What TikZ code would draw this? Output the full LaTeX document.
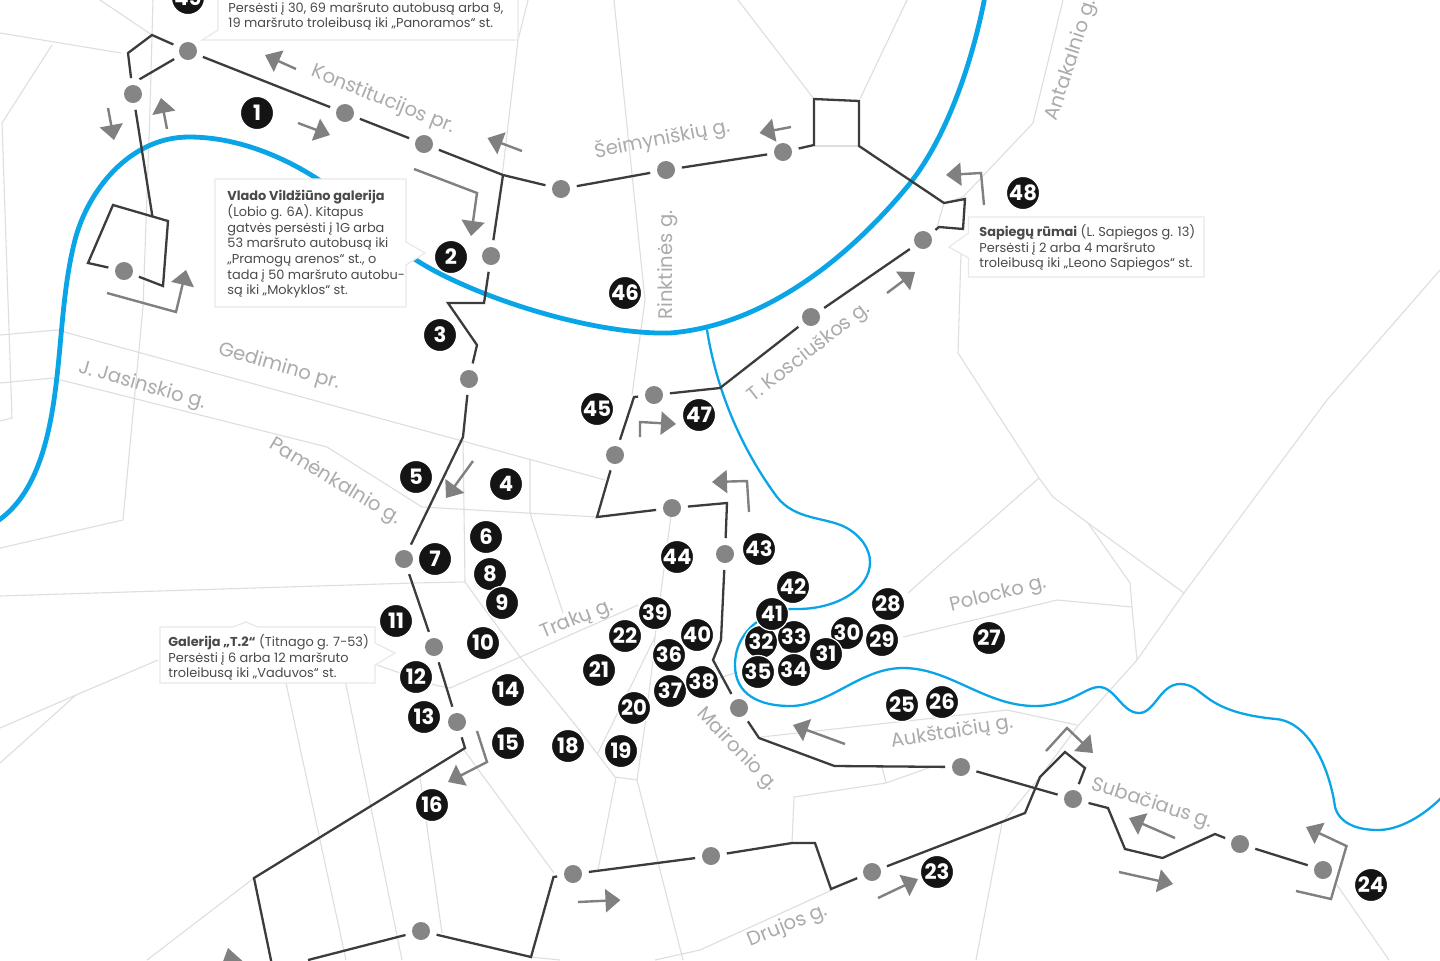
\documentclass[tikz,border=0pt]{standalone}
\usepackage{fontspec}
\setmainfont{Poppins}
\usetikzlibrary{arrows.meta}
\definecolor{streetc}{HTML}{DEDEDE}
\definecolor{riverc}{HTML}{0AA5E6}
\definecolor{routec}{HTML}{3C3C3C}
\definecolor{stopc}{HTML}{858585}
\definecolor{arrowc}{HTML}{808080}
\definecolor{labelc}{HTML}{ABABAB}
\definecolor{boxc}{HTML}{E8E8E8}
\definecolor{textc}{HTML}{4A4A4A}
\definecolor{badgec}{HTML}{141414}
\tikzset{
  street/.style={draw=streetc,line width=0.55pt,line join=round},
  riverthick/.style={draw=riverc,line width=2.4pt,line cap=round},
  riverthin/.style={draw=riverc,line width=1.15pt,line cap=round},
  route/.style={draw=routec,line width=1.15pt,line join=miter},
  stopdot/.style={circle,fill=stopc,draw=none,minimum size=9pt,inner sep=0pt,outer sep=3.5pt},
  dirarrow/.style={draw=arrowc,line width=1.2pt,line join=miter,-{Triangle[length=7.5pt,width=11.5pt,fill=arrowc]}},
  calloutbox/.style={fill=white,draw=boxc,line width=0.6pt},
  callouttext/.style={anchor=north west,inner sep=0pt,align=left,text=textc,font=\fontsize{6.45}{7.85}\selectfont},
  badge/.style={circle,fill=badgec,draw=white,line width=0.6pt,minimum size=16.6pt,inner sep=0pt,text=white,font=\fontsize{10.6}{10.6}\selectfont\bfseries},
  streetname/.style={text=labelc,inner sep=0pt,font=\fontsize{9.8}{10}\selectfont},
}
\begin{document}
\begin{tikzpicture}[x=0.5pt,y=-0.5pt]
\useasboundingbox (0,0) rectangle (1440,960);
\clip (0,0) rectangle (1440,960);
\fill[white] (0,0) rectangle (1440,960);

% streets
\draw[street] (0,33) -- (121,53);
\draw[street] (100,0) -- (152,35);
\draw[street] (52,45) -- (2,123) -- (12,418) -- (0,421);
\draw[street] (153,0) -- (150,110) -- (143,307) -- (123,520) -- (0,548);
\draw[street] (528,0) -- (518,40) -- (502,177);
\draw[street] (0,335) -- (57,330) -- (605,480);
\draw[street] (0,383) -- (53,378) -- (327,447) -- (422,507) -- (597,517);
\draw[street] (0,596) -- (413,583) -- (465,582);
\draw[street] (463,440) -- (465,582) -- (483,607) -- (520,657) -- (577,727) -- (615,777) -- (637,780) -- (683,960);
\draw[street] (530,460) -- (530,513) -- (563,613);
\draw[street] (638,605) -- (450,688) -- (435,685) -- (377,665);
\draw[street] (158,660) -- (76,695) -- (0,728);
\draw[street] (76,695) -- (0,763);
\draw[street] (281,660) -- (346,960);
\draw[street] (341,660) -- (402,960);
\draw[street] (420,777) -- (442,933);
\draw[street] (464,750) -- (554,873);
\draw[street] (254,878) -- (147,960);
\draw[street] (531,957) -- (560,960);
\draw[street] (616,777) -- (598,870);
\draw[street] (655,637) -- (598,753);
\draw[street] (655,637) -- (653,660) -- (645,725) -- (637,780);
\draw[street] (672,508) -- (655,637);
\draw[street] (614,0) -- (645,300) -- (632,395);
\draw[street] (738,0) -- (814,99);
\draw[street] (907,0) -- (860,99);
\draw[street] (814,146) -- (859,146);
\draw[street] (1063,0) -- (1033,123) -- (963,197) -- (944,203) -- (937,227);
\draw[street] (961,253) -- (958,353) -- (1039,478) -- (1053,497) -- (1088,523) -- (1184,593);
\draw[street] (1039,478) -- (980,530) -- (945,560) -- (908,593);
\draw[street] (1088,523) -- (1130,583) -- (1132,607) -- (1137,660);
\draw[street] (1440,270) -- (1327,400) -- (1184,593) -- (1137,660) -- (1077,727) -- (1040,777) -- (1002,823) -- (976,960);
\draw[street] (903,637) -- (1057,600) -- (1132,607);
\draw[street] (713,680) -- (735,673);
\draw[street] (761,737) -- (1007,710) -- (1077,725);
\draw[street] (931,767) -- (886,783) -- (794,797) -- (792,843);
\draw[street] (886,783) -- (882,767);
\draw[street] (700,950) -- (832,890);
\draw[street] (700,950) -- (655,960);
\draw[street] (1337,885) -- (1389,960);

% rivers
\draw[riverthick] (-4,522) .. controls (30,500) and (46,455) .. (54,400)
  .. controls (62,345) and (62,290) .. (75,240)
  .. controls (88,190) and (130,137) .. (189,137)
  .. controls (235,137) and (280,155) .. (316,178)
  .. controls (350,200) and (385,240) .. (416,260)
  .. controls (470,295) and (590,335) .. (670,333)
  .. controls (770,325) and (855,250) .. (907,187)
  .. controls (950,135) and (975,50) .. (985,-4);
\draw[riverthin] (707,330) .. controls (715,380) and (735,440) .. (777,497)
  .. controls (795,520) and (825,517) .. (845,527)
  .. controls (862,536) and (870,550) .. (870,562)
  .. controls (870,590) and (835,610) .. (794,609)
  .. controls (775,608) and (735,625) .. (735,665)
  .. controls (735,695) and (760,706) .. (790,706)
  .. controls (830,706) and (860,668) .. (903,668)
  .. controls (950,668) and (985,706) .. (1035,706)
  .. controls (1070,706) and (1085,687) .. (1099,687)
  .. controls (1115,687) and (1122,713) .. (1139,713)
  .. controls (1155,713) and (1160,684) .. (1180,684)
  .. controls (1205,684) and (1200,712) .. (1276,719)
  .. controls (1310,722) and (1330,770) .. (1335,807)
  .. controls (1340,825) and (1360,830) .. (1378,830)
  .. controls (1400,830) and (1425,815) .. (1444,795);

% stops
\foreach \n/\x/\y in {A/188/51,B/133/94,C/124/271,D/345/113,E/424/144,F/491/256,G/469/379,H/561/189,I/666/170,J/783/152,K/923/240,L/811/317,M/654/395,N/615/455,O/672/508,P/725/554,Q/739/708,R/961/767,S/1073/799,T/1240/844,U/1323/870,V/872/872,W/711/856,X/573/874,Y/421/931,Z/457/722,AA/434/647,AB/404/559}
  \node[stopdot] (\n) at (\x,\y) {};

% routes
\draw[route] (A) -- (152,35) -- (128,53) -- (B);
\draw[route] (A) -- (140,79) -- (B);
\draw[route] (B) -- (152.5,217);
\draw[route] (C) -- (88,263) -- (113,205) -- (168,221) -- (163,286) -- (C);
\draw[route] (A) -- (D);
\draw[route] (D) -- (E);
\coordinate (fork) at (503,175);
\draw[route] (E) -- (fork) -- (H);
\draw[route] (fork) -- (F);
\draw[route] (F) -- (484,303) -- (448,303) -- (477,345) -- (G);
\draw[route] (G) -- (463,437) -- (AB);
\draw[route] (AB) -- (AA);
\draw[route] (AA) -- (Z);
\draw[route] (Z) -- (465,748) -- (254,878) -- (272,965);
\draw[route] (Y) -- (308,960);
\draw[route] (Y) -- (531,957) -- (553.5,877) -- (X);
\draw[route] (X) -- (W);
\draw[route] (W) -- (792,843) -- (815,843) -- (831,889) -- (V);
\draw[route] (V) -- (1025,813) -- (1040,777) -- (1065,752) -- (1085,768) -- (S);
\draw[route] (Q) -- (759,738) -- (834.5,766) -- (R);
\draw[route] (R) -- (S);
\draw[route] (S) -- (1108,808) -- (1125,849) -- (1162.5,858) -- (1215,834) -- (T);
\draw[route] (T) -- (U);
\draw[route] (P) -- (721,640) -- (713,660) -- (Q);
\draw[route] (P) -- (727,503) -- (O);
\draw[route] (O) -- (597,517) -- (N);
\draw[route] (N) -- (634,397) -- (M);
\draw[route] (M) -- (720,388) -- (L);
\draw[route] (L) -- (K);
\draw[route] (K) -- (939,227) -- (963,229) -- (965,199) -- (944,203) -- (859,146) -- (859,101) -- (814,99) -- (814,145) -- (J);
\draw[route] (J) -- (I);
\draw[route] (I) -- (H);

% direction arrows
\draw[dirarrow] (108,108) -- (114,140);
\draw[dirarrow] (167,129) -- (161,98);
\draw[dirarrow] (107,293) -- (176,312) -- (186,270);
\draw[dirarrow] (298,123) -- (330,135);
\draw[dirarrow] (296,69) -- (265,55);
\draw[dirarrow] (522,151) -- (487.5,138);
\draw[dirarrow] (414,169) -- (477,193) -- (471,236);
\draw[dirarrow] (791,127) -- (759.5,133);
\draw[dirarrow] (984,205) -- (981,173) -- (946,175);
\draw[dirarrow] (887,293) -- (915,272);
\draw[dirarrow] (640,437) -- (640,422) -- (676,424);
\draw[dirarrow] (473,461) -- (446,498);
\draw[dirarrow] (749,512) -- (747,481) -- (712,482);
\draw[dirarrow] (477,731) -- (487,762) -- (448,782);
\draw[dirarrow] (845,744) -- (793,725);
\draw[dirarrow] (1046,751) -- (1067,728) -- (1093,753);
\draw[dirarrow] (1175,838) -- (1129,818);
\draw[dirarrow] (1119,872) -- (1173,884);
\draw[dirarrow] (878,898) -- (918,879);
\draw[dirarrow] (578,902) -- (620.5,900);
\draw[dirarrow] (1296,891) -- (1331,899) -- (1346.5,846) -- (1306,827);
\fill[arrowc] (228,948) -- (247,965) -- (218,975) -- cycle;

% callouts
\draw[calloutbox] (218,-5) -- (218,30) -- (202,40) -- (518,40) -- (518,-5);
\draw[calloutbox] (215,179) -- (406,179) -- (406,242) -- (425,253) -- (406,265) -- (406,307) -- (215,307) -- cycle;
\draw[calloutbox] (968.5,217) -- (1204,217) -- (1204,277) -- (968.5,277) -- (968.5,258) -- (949,247) -- (968.5,233) -- cycle;
\draw[calloutbox] (160,627) -- (233,627) -- (246,622) -- (258,627) -- (375,627) -- (375,643) -- (395,653) -- (375,665) -- (375,683) -- (160,683) -- cycle;

\node[callouttext] (t1) at (228,2) {Persėsti į 30, 69 maršruto autobusą arba 9,\\19 maršruto troleibusą iki „Panoramos“ st.};
\node[callouttext] (t2) at (227,190) {\textbf{Vlado Vildžiūno galerija}\\(Lobio g. 6A). Kitapus\\gatvės persėsti į 1G arba\\53 maršruto autobusą iki\\„Pramogų arenos“ st., o\\tada į 50 maršruto autobu-\\są iki „Mokyklos“ st.};
\node[callouttext] (t3) at (979,224) {\textbf{Sapiegų rūmai} (L. Sapiegos g. 13)\\Persėsti į 2 arba 4 maršruto\\troleibusą iki „Leono Sapiegos“ st.};
\node[callouttext] (t4) at (168,634) {\textbf{Galerija „T.2“} (Titnago g. 7-53)\\Persėsti į 6 arba 12 maršruto\\troleibusą iki „Vaduvos“ st.};

% badges
\foreach \n/\x/\y in {1/257/113,2/451/257,3/440/335,4/506/484,5/416/477,6/486/537,7/435/559,8/490/574,9/502/603,10/483/643,11/396/621,12/416/677,13/424/717,14/508/690,15/508/743,16/432/805,18/568/746,19/621/751,20/634/708,21/599/670,22/625/636,23/937/872,24/1371/885,25/902/705,26/942/702,27/989/638,28/888/604,29/882/640,30/847/633,31/826/654,32/761/642,33/794/637,34/794/670,35/758/672,36/669/655,37/670/691,38/702/682,39/655/613,40/697/635,41/772/614,42/793/587,43/759/549,44/677/557,45/597/409,46/625/293,47/699/415,48/1023/193,49/188/-2}
  \node[badge] (b\n) at (\x,\y) {\n};

% street names
\node[streetname,rotate=-22] (s1) at (383,100) {Konstitucijos pr.};
\node[streetname,rotate=11] (s2) at (662,139) {Šeimyniškių g.};
\node[streetname,rotate=90] (s3) at (668,265) {Rinktinės g.};
\node[streetname,rotate=72] (s4) at (1072,60) {Antakalnio g.};
\node[streetname,rotate=38] (s5) at (809,353) {T. Kosciuškos g.};
\node[streetname,rotate=-16] (s6) at (279,367) {Gedimino pr.};
\node[streetname,rotate=-16] (s7) at (142,386) {J. Jasinskio g.};
\node[streetname,rotate=-31] (s8) at (335,482) {Pamėnkalnio g.};
\node[streetname,rotate=22] (s9) at (577,620) {Trakų g.};
\node[streetname,rotate=14] (s10) at (998,595) {Polocko g.};
\node[streetname,rotate=9] (s11) at (952,733) {Aukštaičių g.};
\node[streetname,rotate=-46] (s12) at (737,750) {Maironio g.};
\node[streetname,rotate=-18] (s13) at (1152,804) {Subačiaus g.};
\node[streetname,rotate=22] (s14) at (788,926) {Drujos g.};
\end{tikzpicture}
\end{document}
